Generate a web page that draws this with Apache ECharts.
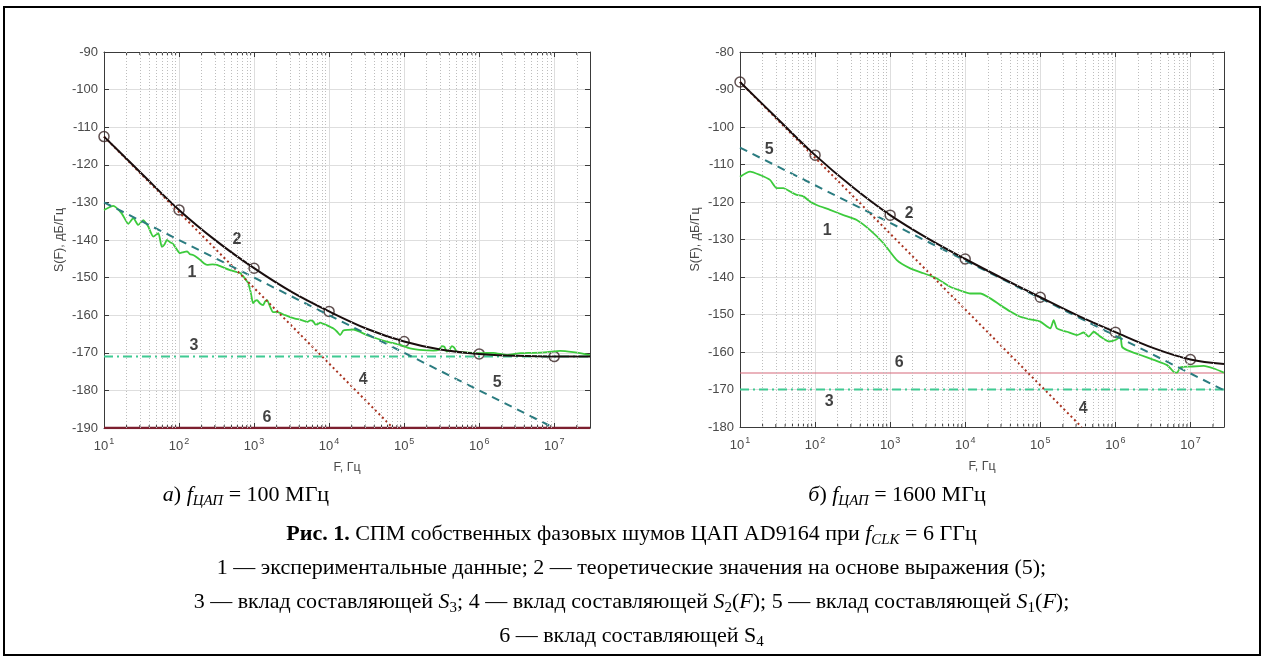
<!DOCTYPE html>
<html><head><meta charset="utf-8">
<script src="https://cdn.jsdelivr.net/npm/echarts@6/dist/echarts.min.js"></script>
<style>
html,body{margin:0;padding:0;background:#fff;}
#wrap{position:relative;width:1263px;height:658px;overflow:hidden;}
#chart{position:absolute;left:0;top:0;width:1263px;height:658px;}
#frame{position:absolute;left:3px;top:6px;width:1254px;height:646px;border:2px solid #000;pointer-events:none;}
.cap{position:absolute;font-family:"Liberation Serif","Times New Roman",serif;font-size:22px;color:#000;white-space:nowrap;line-height:22px;}
.cl{left:0;width:1263px;text-align:center;}
sub{font-size:0.68em;vertical-align:-0.3em;line-height:0;}
</style></head>
<body><div id="wrap">
<div id="chart"></div>
<div id="frame"></div>
<div class="cap" id="capA" style="left:146px;top:483px;width:200px;text-align:center;"><i>а</i>) <i>f<sub>ЦАП</sub></i> = 100 МГц</div>
<div class="cap" id="capB" style="left:792px;top:483px;width:210px;text-align:center;"><i>б</i>) <i>f<sub>ЦАП</sub></i> = 1600 МГц</div>
<div class="cap cl" style="top:522px;"><b>Рис. 1.</b> СПМ собственных фазовых шумов ЦАП AD9164 при <i>f<sub>CLK</sub></i> = 6 ГГц</div>
<div class="cap cl" style="top:556px;">1 — экспериментальные данные; 2 — теоретические значения на основе выражения (5);</div>
<div class="cap cl" style="top:590px;">3 — вклад составляющей <i>S</i><sub>3</sub>; 4 — вклад составляющей <i>S</i><sub>2</sub>(<i>F</i>); 5 — вклад составляющей <i>S</i><sub>1</sub>(<i>F</i>);</div>
<div class="cap cl" style="top:624px;">6 — вклад составляющей S<sub>4</sub></div>
</div>
<script>
// ---------- data: panel a (f = 100 MHz) ----------
const aYRange = [-190, -90];
const aExperimental = [[10,-132],[13.3,-130.9],[17.2,-132.9],[21.1,-135.7],[24.6,-134.2],[28.6,-136],[33.4,-134.7],[39,-136.5],[45.4,-139.1],[53,-138.2],[59,-141.8],[64,-141.2],[69,-140],[76,-140.6],[83,-141],[92,-142.3],[103,-143.5],[115,-143.2],[128,-143],[140,-143.8],[154,-144],[172,-144.6],[191,-145.3],[214,-146.2],[236,-146.6],[280,-146.5],[321,-146.6],[400,-147.4],[479,-148],[560,-148.4],[651,-148.8],[740,-150],[832,-151.4],[900,-153.8],[970,-156.8],[1030,-156.2],[1097,-156],[1200,-156.9],[1318,-157.3],[1400,-156.4],[1489,-156],[1640,-157.8],[1792,-159.2],[2000,-159.1],[2222,-159.4],[2600,-160],[3020,-160.5],[3500,-160.9],[4104,-161.2],[4600,-161.5],[5090,-161.8],[5600,-161.4],[6120,-161.6],[6600,-162.5],[7130,-162.3],[7590,-162],[8400,-162.3],[9400,-162.7],[11300,-163.5],[12800,-164.4],[14000,-165.3],[15500,-164.1],[18000,-163.9],[21100,-163.8],[25000,-164.3],[31800,-165.3],[43200,-166.2],[58800,-167],[88500,-167.9],[120000,-168.8],[181000,-169.3],[246000,-169.4],[290000,-169.2],[318000,-168.2],[345000,-168.4],[370000,-169.7],[400000,-169.3],[432000,-168.2],[465000,-168.6],[504000,-169.7],[685000,-169.9],[1030000,-170.1],[1540000,-170],[2360000,-170.6],[3520000,-170.1],[5250000,-170],[8070000,-169.8],[12000000,-169.5],[17900000,-169.8],[24000000,-170.2],[30000000,-170.6]];
const aTheory = [[10,-112.5],[31.6,-122.3],[100,-132],[316,-140.3],[1000,-147.5],[3162,-153.8],[10000,-159],[31620,-163.6],[100000,-167],[316200,-169.2],[1000000,-170.3],[3162000,-170.8],[10000000,-171],[30000000,-171]];
const aTheoryMarks = [[10,-112.5],[100,-132],[1000,-147.5],[10000,-159],[100000,-167],[1000000,-170.3],[10000000,-171]];
const aS3 = [[10,-171],[30000000,-171]];
const aS2 = [[10,-112.5],[71000,-190]];
const aS1 = [[10,-130],[10000000,-190]];
const aS4 = [[10,-190],[30000000,-190]];
const aLabels = [['1',149,-148.8],['2',593,-140],['3',158,-168.2],['4',28400,-177],['5',1740000,-177.8],['6',1490,-187.3]];

// ---------- data: panel b (f = 1600 MHz) ----------
const bYRange = [-180, -80];
const bExperimental = [[10,-113.3],[13.6,-111.9],[18.5,-112.8],[25.1,-114.1],[30.8,-116.3],[37.8,-116.3],[46.4,-117.2],[57,-118.1],[70,-118.5],[86,-119.9],[105,-120.8],[158,-122.1],[239,-123.5],[359,-124.8],[541,-127.5],[815,-131],[1227,-135.5],[1848,-137.7],[2782,-139],[4190,-140.4],[6310,-142.6],[8580,-143.6],[11660,-144.4],[15850,-144.4],[21540,-145.7],[29290,-147.5],[39810,-149.2],[54120,-150.6],[73560,-151.3],[100000,-151.9],[135900,-153.7],[150600,-151.5],[166800,-153.7],[226800,-154.6],[308300,-155.5],[378400,-154.8],[440600,-155.9],[514000,-154.6],[631000,-155.9],[814700,-157.2],[1000000,-156.8],[1166000,-155.9],[1228000,-158.6],[1432000,-159.5],[2154000,-160.8],[3240000,-162.1],[4890000,-163.5],[6000000,-165.3],[6640000,-165.5],[7360000,-164.1],[10000000,-163.9],[15000000,-163.7],[20500000,-164.4],[27800000,-165.5]];
const bTheory = [[10,-88],[31.6,-97.8],[100,-107.5],[316,-116],[1000,-123.5],[3162,-129.7],[10000,-135.2],[31620,-140.4],[100000,-145.4],[316200,-150.3],[1000000,-154.7],[3162000,-158.9],[10000000,-162],[28000000,-163.2]];
const bTheoryMarks = [[10,-88],[100,-107.5],[1000,-123.5],[10000,-135.2],[100000,-145.4],[1000000,-154.7],[10000000,-162]];
const bS3 = [[10,-170],[28000000,-170]];
const bS2 = [[10,-88],[355000,-180]];
const bS1 = [[10,-105.5],[28000000,-170.2]];
const bS4 = [[10,-165.6],[28000000,-165.6]];
const bLabels = [['1',145,-127.5],['2',1790,-123.2],['3',154,-173.3],['4',374000,-175.2],['5',24.4,-106.1],['6',1318,-162.7]];

// ---------- helpers ----------
const FONT = '"Liberation Sans", Arial, sans-serif';
const AXC = '#3a3a3a';
const TXC = '#4a4a4a';
const minorMult = [2,3,4,5,6,7,8,9];
function minorValues(xmax){
  const out = [];
  for (let e = 1; e <= 7; e++) for (const m of minorMult) { const v = m * Math.pow(10, e); if (v < xmax) out.push(v); }
  return out;
}
function panel(i, d){
  const xAxes = [
    { type:'log', logBase:10, gridIndex:i, min:10, max:d.xmax, position:'bottom',
      axisLine:{show:true, onZero:false, lineStyle:{color:AXC, width:1}},
      axisTick:{show:true, inside:true, length:5, lineStyle:{color:AXC}},
      axisLabel:{ margin:9, color:TXC, showMaxLabel:false,
        formatter: v => { const l = Math.log10(v), e = Math.round(l); return Math.abs(l-e) > 1e-6 ? '' : '{b|10}{s|' + e + '}'; },
        rich:{ b:{fontSize:13, fontFamily:FONT, color:TXC, verticalAlign:'bottom'},
               s:{fontSize:9, fontFamily:FONT, color:TXC, verticalAlign:'bottom', padding:[0,0,7,1]} } },
      splitLine:{show:true, lineStyle:{color:'#dedede', width:1}},
      name:'F, Гц', nameLocation:'middle', nameGap:33,
      nameTextStyle:{fontSize:12.5, fontFamily:FONT, color:TXC} },
    { type:'log', logBase:10, gridIndex:i, min:10, max:d.xmax, position:'top',
      axisLine:{show:true, onZero:false, lineStyle:{color:AXC, width:1}},
      axisTick:{show:true, inside:true, length:5, lineStyle:{color:AXC}},
      axisLabel:{show:false}, splitLine:{show:false} }
  ];
  const yAxes = [
    { type:'value', gridIndex:i, min:d.yr[0], max:d.yr[1], interval:10, position:'left',
      axisLine:{show:true, lineStyle:{color:AXC, width:1}},
      axisTick:{show:true, inside:true, length:5, lineStyle:{color:AXC}},
      axisLabel:{margin:6, fontSize:13, fontFamily:FONT, color:TXC},
      splitLine:{show:true, lineStyle:{color:'#dedede', width:1}},
      name:'S(F), дБ/Гц', nameLocation:'middle', nameGap:38, nameRotate:90,
      nameTextStyle:{fontSize:12.5, fontFamily:FONT, color:TXC} },
    { type:'value', gridIndex:i, min:d.yr[0], max:d.yr[1], interval:10, position:'right',
      axisLine:{show:true, lineStyle:{color:AXC, width:1}},
      axisTick:{show:true, inside:true, length:5, lineStyle:{color:AXC}},
      axisLabel:{show:false}, splitLine:{show:false} }
  ];
  const xi = i*2, yi = i*2;
  const minors = minorValues(d.xmax);
  const base = {xAxisIndex:xi, yAxisIndex:yi, silent:true, animation:false};
  const series = [
    Object.assign({}, base, { type:'line', data:[[10, d.yr[0]]], symbol:'none', lineStyle:{opacity:0},
      markLine:{ silent:true, symbol:['none','none'], label:{show:false}, animation:false,
        lineStyle:{type:[1,2], color:'#bdbdbd', width:1},
        data: minors.map(v => ({xAxis:v})) } }),
    Object.assign({}, base, { type:'custom', data: minors.map(v => [v, d.yr[0]]), clip:false,
      renderItem:(p, api) => {
        const v = api.value(0);
        const pb = api.coord([v, d.yr[0]]), pt = api.coord([v, d.yr[1]]);
        return { type:'group', children:[
          {type:'line', shape:{x1:pb[0], y1:pb[1], x2:pb[0], y2:pb[1]-3}, style:{stroke:AXC, lineWidth:1}},
          {type:'line', shape:{x1:pt[0], y1:pt[1], x2:pt[0], y2:pt[1]+3}, style:{stroke:AXC, lineWidth:1}} ]};
      } }),
    Object.assign({}, base, { type:'line', data:d.s4, symbol:'none', lineStyle:{color:d.s4c, width:d.s4w} }),
    Object.assign({}, base, { type:'line', data:d.s3, symbol:'none', lineStyle:{color:'#3fca92', width:2, type:[9,4,2,4]} }),
    Object.assign({}, base, { type:'line', data:d.exp, symbol:'none', smooth:0.2, lineStyle:{color:'#3ccb3c', width:1.8} }),
    Object.assign({}, base, { type:'line', data:d.s2, symbol:'none', lineStyle:{color:'#a8321f', width:2, type:[2,3]} }),
    Object.assign({}, base, { type:'line', data:d.s1, symbol:'none', lineStyle:{color:'#2b7c80', width:2, type:[8,6]} }),
    Object.assign({}, base, { type:'line', data:d.th, symbol:'none', smooth:0.35, lineStyle:{color:'#1a0e0e', width:2} }),
    Object.assign({}, base, { type:'scatter', data:d.marks, symbol:'circle', symbolSize:10,
      itemStyle:{color:'rgba(255,255,255,0)', borderColor:'#3a2626', borderWidth:1.5} }),
    Object.assign({}, base, { type:'scatter', symbolSize:0, itemStyle:{color:'rgba(0,0,0,0)'},
      data: d.labels.map(l => ({name:l[0], value:[l[1], l[2]]})),
      label:{show:true, position:'inside', formatter: p => p.name, fontSize:16, fontWeight:'bold', fontFamily:FONT, color:'#111'} })
  ];
  return {xAxes, yAxes, series};
}

const pA = panel(0, {xmax:3e7, yr:aYRange, exp:aExperimental, th:aTheory, marks:aTheoryMarks, s1:aS1, s2:aS2, s3:aS3, s4:aS4, s4c:'#7d1f2f', s4w:2.5, labels:aLabels});
const pB = panel(1, {xmax:2.8e7, yr:bYRange, exp:bExperimental, th:bTheory, marks:bTheoryMarks, s1:bS1, s2:bS2, s3:bS3, s4:bS4, s4c:'#d6697a', s4w:1.2, labels:bLabels});

const chart = echarts.init(document.getElementById('chart'));
chart.setOption({
  animation:false,
  backgroundColor:'transparent',
  grid:[ {left:104, top:52, width:486, height:376}, {left:740, top:52, width:484, height:375} ],
  xAxis:[...pA.xAxes, ...pB.xAxes],
  yAxis:[...pA.yAxes, ...pB.yAxes],
  series:[...pA.series, ...pB.series]
});
</script>
</body></html>
